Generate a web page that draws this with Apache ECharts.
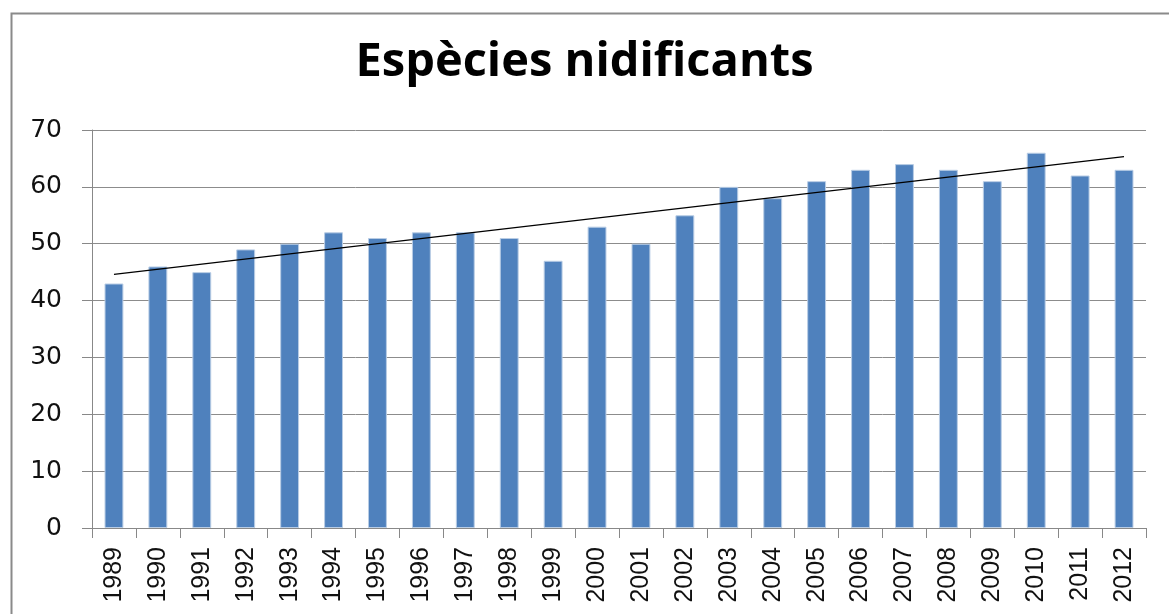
<!DOCTYPE html>
<html>
<head>
<meta charset="utf-8">
<script src="https://cdn.jsdelivr.net/npm/echarts@6/dist/echarts.min.js"></script>
<style>
  html, body { margin: 0; padding: 0; background: #fff; }
  #chart { width: 1169px; height: 614px; }
</style>
</head>
<body>
<div id="chart"></div>
<script>
// years on the x axis
const years = ['1989', '1990', '1991', '1992', '1993', '1994', '1995', '1996',
  '1997', '1998', '1999', '2000', '2001', '2002', '2003', '2004', '2005',
  '2006', '2007', '2008', '2009', '2010', '2011', '2012'];
// breeding species count per year
const species = [43, 46, 45, 49, 50, 52, 51, 52, 52, 51, 47, 53, 50, 55,
  60, 58, 61, 63, 64, 63, 61, 66, 62, 63];
// linear trend line, values read at first and last year
const trendEnds = [44.6, 65.3];

const chart = echarts.init(document.getElementById('chart'));

const option = {
  animation: false,
  title: {
    text: 'Espècies nidificants',
    left: 'center',
    top: 34,
    textStyle: {
      fontFamily: 'Open Sans',
      fontWeight: 'bold',
      fontSize: 47,
      color: '#000'
    }
  },
  graphic: [{
    type: 'rect',
    left: 9,
    top: 11,
    shape: { width: 1300, height: 700 },
    style: { fill: 'none', stroke: '#8a8a8a', lineWidth: 2 },
    silent: true,
    z: -1
  }],
  grid: { left: 92, right: 23, top: 130, bottom: 86 },
  xAxis: {
    type: 'category',
    data: years,
    boundaryGap: true,
    axisLine: { lineStyle: { color: '#888', width: 1 } },
    axisTick: { show: true, length: 10, lineStyle: { color: '#888' } },
    axisLabel: {
      rotate: 90,
      margin: 19,
      fontFamily: 'Liberation Sans',
      fontSize: 25,
      color: '#111'
    }
  },
  yAxis: {
    type: 'value',
    min: 0,
    max: 70,
    interval: 10,
    axisLine: { show: true, lineStyle: { color: '#888', width: 1 } },
    axisTick: { show: true, length: 10, lineStyle: { color: '#888' } },
    splitLine: { lineStyle: { color: '#8c8c8c', width: 1 } },
    axisLabel: {
      margin: 30,
      fontFamily: 'DejaVu Sans',
      fontSize: 25,
      color: '#111'
    }
  },
  series: [
    {
      type: 'bar',
      data: species,
      barCategoryGap: '57%',
      itemStyle: {
        color: '#4f81bd',
        borderColor: '#b9cde5',
        borderWidth: 1
      }
    },
    {
      type: 'line',
      data: [[years[0], trendEnds[0]], [years[years.length - 1], trendEnds[1]]],
      symbol: 'none',
      lineStyle: { color: '#000', width: 1.3 },
      z: 3
    }
  ]
};

chart.setOption(option);
</script>
</body>
</html>
